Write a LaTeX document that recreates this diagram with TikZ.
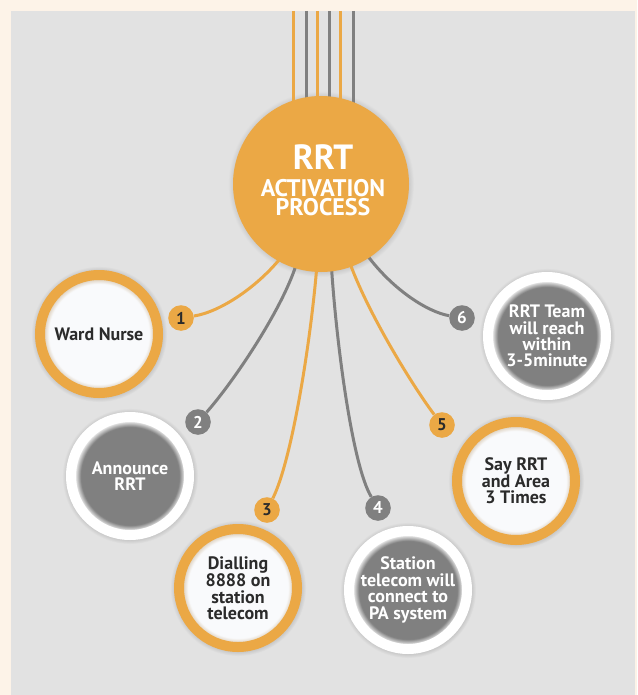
\documentclass[tikz,border=0pt]{standalone}
\usepackage{fontspec}
\setmainfont{PT Sans}
\definecolor{cream}{HTML}{FDF3E8}
\definecolor{panel}{HTML}{E2E2E2}
\definecolor{org}{HTML}{EBA845}
\definecolor{gry}{HTML}{808080}
\definecolor{ink}{HTML}{2B2B2B}
\definecolor{nwhite}{HTML}{F9FAFC}
\definecolor{halo}{HTML}{C8C8C8}
\definecolor{wedge}{HTML}{DDD0BE}
\pgfdeclareradialshading{haloshade}{\pgfpoint{0bp}{0bp}}{color(0bp)=(halo); color(23.4bp)=(halo); color(25bp)=(panel); color(50bp)=(panel)}
\pgfdeclareradialshading{grayin}{\pgfpoint{0bp}{0bp}}{color(0bp)=(gry); color(20.8bp)=(gry); color(23.6bp)=(white); color(50bp)=(white)}
\pgfdeclareradialshading{whitein}{\pgfpoint{0bp}{0bp}}{color(0bp)=(nwhite); color(21.2bp)=(nwhite); color(23.3bp)=(wedge); color(50bp)=(wedge)}
\newcommand\mynodefont{\bfseries\fontsize{18}{16.4}\selectfont}
\newcommand\mybadgefont{\bfseries\fontsize{17}{17}\selectfont}
\pgfdeclarelayer{bg}
\pgfdeclarelayer{lines}
\pgfsetlayers{bg,lines,main}
\tikzset{
  link/.style={line width=3pt},
  orgnode/.style={circle, minimum size=118pt, inner sep=0pt, draw=org, line width=10pt, shade, shading=whitein, text=ink, font=\mynodefont, align=center},
  grynode/.style={circle, minimum size=118pt, inner sep=0pt, draw=white, line width=10pt, shade, shading=grayin, text=white, font=\mynodefont, align=center},
  obadge/.style={circle, fill=org, minimum size=25.6pt, inner sep=0pt, text=ink, font=\mybadgefont},
  gbadge/.style={circle, fill=gry, minimum size=25.6pt, inner sep=0pt, text=white, font=\mybadgefont},
  bigtxt/.style={anchor=base, text=white, font=\bfseries\fontsize{35}{35}\selectfont, inner sep=0pt, text height=24pt, text depth=0pt},
  midtxt/.style={anchor=base, text=white, font=\bfseries\fontsize{24}{19.5}\selectfont, inner sep=0pt, align=center},
}
\begin{document}
\begin{tikzpicture}[x=1pt,y=-1pt]
\useasboundingbox (0,0) rectangle (637,695);
% positions
\coordinate (pc) at (321,184);
\coordinate (p1) at (99,334);
\coordinate (p2) at (130,476);
\coordinate (p3) at (238,588);
\coordinate (p4) at (408,590);
\coordinate (p5) at (516,481);
\coordinate (p6) at (547,336);
\begin{pgfonlayer}{bg}
  \fill[cream] (0,0) rectangle (637,695);
  \fill[panel] (11,11) rectangle (635,695);
  \foreach \p in {p1,p2,p3,p4,p5,p6}{
    \shade[shading=haloshade] (\p) circle[radius=68pt];
  }
  \shade[shading=haloshade] (pc) circle[radius=93pt];
\end{pgfonlayer}
% central circle
\node[circle, fill=org, minimum size=176pt, inner sep=0pt] (c) at (pc) {};
\node[bigtxt] (ct1) at (323,170) {RRT};
\node[midtxt] (ct2) at (323,215.5) {ACTIVATION\\PROCESS};
% step nodes
\node[orgnode] (n1) at (p1) {Ward Nurse};
\node[grynode] (n2) at (p2) {Announce\\RRT};
\node[orgnode] (n3) at (p3) {Dialling\\8888 on\\station\\telecom};
\node[grynode] (n4) at (p4) {Station\\telecom will\\connect to\\PA system};
\node[orgnode] (n5) at (p5) {Say RRT\\and Area\\3 Times};
\node[grynode] (n6) at (p6) {RRT Team\\will reach\\within\\3-5minute};
% badges
\node[obadge] (b1) at (181,318) {1};
\node[gbadge] (b2) at (198,422) {2};
\node[obadge] (b3) at (267,510) {3};
\node[gbadge] (b4) at (378,508) {4};
\node[obadge] (b5) at (442,425) {5};
\node[gbadge] (b6) at (462,318) {6};
% connectors
\begin{pgfonlayer}{lines}
  \coordinate (t1) at (293,11);
  \coordinate (t2) at (306,11);
  \coordinate (t3) at (317,11);
  \coordinate (t4) at (329,11);
  \coordinate (t5) at (340,11);
  \coordinate (t6) at (353,11);
  \draw[link, org] (t1) -- (t1 |- c.center);
  \draw[link, gry] (t2) -- (t2 |- c.center);
  \draw[link, org] (t3) -- (t3 |- c.center);
  \draw[link, gry] (t4) -- (t4 |- c.center);
  \draw[link, org] (t5) -- (t5 |- c.center);
  \draw[link, gry] (t6) -- (t6 |- c.center);
  \draw[link, org, shorten <=-8pt] (c.-119) .. controls (258,287) and (220,312) .. (b1);
  \draw[link, gry, shorten <=-8pt] (c.-107) .. controls (285,305) and (235,380) .. (b2);
  \draw[link, org, shorten <=-8pt] (c.-93) .. controls (311,340) and (292,460) .. (b3);
  \draw[link, gry, shorten <=-8pt] (c.-83.5) .. controls (336,340) and (352,465) .. (b4);
  \draw[link, org, shorten <=-8pt] (c.-70) .. controls (366,310) and (412,385) .. (b5);
  \draw[link, gry, shorten <=-8pt] (c.-57) .. controls (392,290) and (428,312) .. (b6);
\end{pgfonlayer}
\end{tikzpicture}
\end{document}
